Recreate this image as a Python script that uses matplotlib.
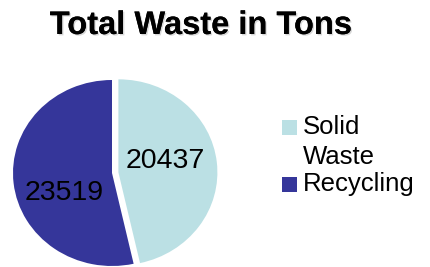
import matplotlib
matplotlib.use("Agg")
import matplotlib.pyplot as plt
from matplotlib.patches import Rectangle
import matplotlib.patheffects as pe

plt.rcParams['font.family'] = ['Liberation Sans', 'DejaVu Sans']

title = "Total Waste in Tons"
categories = ["Solid\nWaste", "Recycling"]
values = [20437, 23519]
colors = ["#BBE0E4", "#35369A"]
explode = [0.065, 0.0]

W, H = 431, 267
fig = plt.figure(figsize=(W / 100, H / 100), dpi=100)

# pie axes: pixel-linear mapping (slightly wider than tall, like the reference)
RX, RY = 99.0, 93.0
cx, cy = 112.0, 173.0
ax = fig.add_axes([0, 0, 1, 1])
wedges, texts = ax.pie(values, colors=colors, explode=explode, startangle=90,
                       counterclock=False, radius=1.0, center=(0, 0),
                       wedgeprops=dict(linewidth=0), frame=True)
ax.set_xlim(-cx / RX, (W - cx) / RX)
ax.set_ylim((cy - H) / RY, cy / RY)
ax.set_aspect('auto')
ax.axis('off')

# overlay axes in pixel coordinates for labels, title and legend
ov = fig.add_axes([0, 0, 1, 1])
ov.set_xlim(0, W)
ov.set_ylim(H, 0)
ov.axis('off')
ov.patch.set_alpha(0)

label_pos = [(165, 168), (64, 200)]
for v, (lx, ly) in zip(values, label_pos):
    ov.text(lx, ly, str(v), ha='center', va='baseline', fontsize=20.5, color='black')

ov.text(201, 34, title, ha='center', va='baseline', fontsize=23.5,
        fontweight='bold', color='black',
        path_effects=[pe.withSimplePatchShadow(offset=(1.0, -1.0), shadow_rgbFace='#aaaaaa', alpha=0.45),
                      pe.Normal()])

leg_top = [120, 177]
for cat, col, ty in zip(categories, colors, leg_top):
    ov.add_patch(Rectangle((282, ty), 15, 15, facecolor=col, edgecolor='none'))
    for k, ln in enumerate(cat.split('\n')):
        ov.text(303, ty + 14 + 30 * k, ln, ha='left', va='baseline',
                fontsize=18.5, color='black')

fig.savefig("out.png", dpi=100, facecolor='white')
